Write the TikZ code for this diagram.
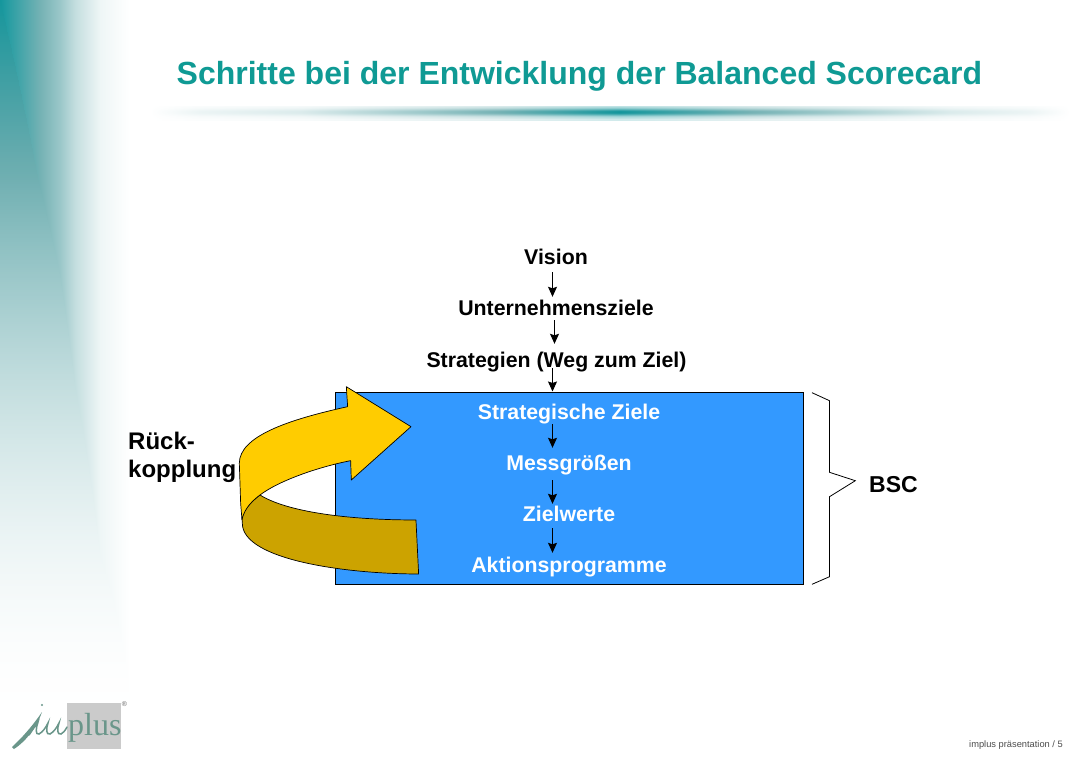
\documentclass[tikz,border=0pt]{standalone}
\usepackage{fontspec}
\setmainfont{Liberation Sans}
\newfontfamily\logofont{Liberation Serif}
\usetikzlibrary{arrows.meta}
\definecolor{tealmain}{HTML}{14969C}
\definecolor{sideteal}{HTML}{107A7E}
\definecolor{titleteal}{HTML}{0F9A94}
\definecolor{boxblue}{HTML}{3399FF}
\definecolor{arrowyellow}{HTML}{FFCC00}
\definecolor{arrowgold}{HTML}{CCA300}
\definecolor{logogreen}{HTML}{6A968A}
\definecolor{logogray}{HTML}{CBCBCB}
\pgfdeclarehorizontalshading{sidefade}{100bp}{
  color(0bp)=(tealmain!100!white);
  color(25bp)=(tealmain!100!white);
  color(26.9bp)=(tealmain!95!white);
  color(40.4bp)=(sideteal!58!white);
  color(48.1bp)=(sideteal!42!white);
  color(53.8bp)=(sideteal!25!white);
  color(63.5bp)=(sideteal!7!white);
  color(75bp)=(white);
  color(100bp)=(white)}
\newcommand{\barshade}[1]{%
  \pgfmathsetmacro{\sa}{#1*100}\pgfmathsetmacro{\sb}{#1*58}\pgfmathsetmacro{\sc}{#1*36}\pgfmathsetmacro{\sd}{#1*15}\pgfmathsetmacro{\se}{#1*8}%
  \edef\tmpdecl{\noexpand\pgfdeclarehorizontalshading{barrow}{100bp}{
    color(0bp)=(white); color(25bp)=(white);
    color(27.7bp)=(sideteal!\se!white);
    color(33.2bp)=(sideteal!\sd!white);
    color(38.6bp)=(sideteal!\sc!white);
    color(44bp)=(sideteal!\sb!white);
    color(50.5bp)=(tealmain!\sa!white);
    color(57.6bp)=(sideteal!\sb!white);
    color(63bp)=(sideteal!\sc!white);
    color(68.5bp)=(sideteal!\sd!white);
    color(72.8bp)=(sideteal!\se!white);
    color(75bp)=(white); color(100bp)=(white)}}%
  \tmpdecl}
\tikzset{
  label text/.style={font=\fontsize{21.3}{24}\selectfont\bfseries, inner sep=0pt, minimum height=22pt, text height=17pt, text depth=2.5pt},
  box text/.style={label text, text=white},
  flow arrow/.style={-{Stealth[length=10pt,width=9pt,inset=1.5pt]}, line width=1pt, black},
  band outline/.style={draw=black, line width=0.7pt, line join=round},
  brace line/.style={draw=black, line width=0.8pt}
}
\begin{document}
\begin{tikzpicture}[x=1pt,y=-1pt]
\useasboundingbox (0,0) rectangle (1092,760);
\fill[white] (0,0) rectangle (1092,760);
% sidebar
\shade[shading=sidefade] (0,0) rectangle (130,760);
\foreach \yy in {0,2,...,718}{
  \pgfmathsetmacro{\ff}{pow(1-(\yy+1)/720,1.8)}
  \pgfmathsetmacro{\xx}{\ff>0.95 ? (1-\ff)/0.05*5 :
     (\ff>0.58 ? 5+(0.95-\ff)/0.37*35 :
     (\ff>0.42 ? 40+(0.58-\ff)/0.16*20 :
     (\ff>0.25 ? 60+(0.42-\ff)/0.17*15 :
     (\ff>0.07 ? 75+(0.25-\ff)/0.18*25 : 100+(0.07-\ff)/0.07*30))))}
  \pgfmathsetmacro{\pc}{\ff*100}
  \pgfmathsetmacro{\tt}{\ff>0.6 ? (\ff-0.6)/0.4*100 : 0}
  \fill[tealmain!\tt!sideteal!\pc!white] (0,\yy) rectangle (\xx,\yy+2);
}
\fill[white] (0,720) rectangle (130,760);
% title rule
\foreach \rr/\ss in {106/0.28,107/0.38,108/0.5,109/0.68,110/0.85,111/0.98,112/1,113/0.95,114/0.8,115/0.62,116/0.45,117/0.35,118/0.28,119/0.2}{
  \barshade{\ss}
  \shade[shading=barrow] (150,\rr) rectangle (1070,\rr+1);
}
% title
\node[font=\fontsize{32}{38}\selectfont\bfseries, text=titleteal, inner sep=0pt] (title) at (579.5,76) {Schritte bei der Entwicklung der Balanced Scorecard};
% upper texts
\node[label text] (vision) at (556,257) {Vision};
\node[label text] (ziele) at (556,308) {Unternehmensziele};
\node[label text] (strat) at (556.5,360) {Strategien (Weg zum Ziel)};
% box
\node[draw=black, line width=1pt, fill=boxblue, minimum width=468pt, minimum height=192pt, inner sep=0pt] (bsc) at (569,488) {};
\node[box text] (sziele) at (569,412) {Strategische Ziele};
\node[box text] (mess) at (569,463) {Messgrößen};
\node[box text] (werte) at (569,514) {Zielwerte};
\node[box text] (aktion) at (569,565) {Aktionsprogramme};
% flow arrows
\draw[flow arrow] ([xshift=-3.5pt,yshift=-4pt]vision.south) -- ([xshift=-3.5pt]ziele.north);
\draw[flow arrow] ([xshift=-1.5pt,yshift=-1pt]ziele.south) -- ([xshift=-1.5pt,yshift=5pt]strat.north -| ziele.north);
\draw[flow arrow] ([xshift=-4pt,yshift=3pt]strat.south) -- ([xshift=-4pt]strat.south |- bsc.north);
\draw[flow arrow] ([xshift=-16.5pt,yshift=-1pt]sziele.south) -- ([xshift=-16.5pt,yshift=4pt]mess.north);
\draw[flow arrow] ([xshift=-16.5pt,yshift=-6pt]mess.south) -- ([xshift=-16.5pt,yshift=-1pt]werte.north);
\draw[flow arrow] ([xshift=-16.5pt,yshift=-3pt]werte.south) -- ([xshift=-16.5pt,yshift=1pt]aktion.north);
% feedback label
\node[font=\fontsize{24}{28}\selectfont\bfseries, anchor=north west, align=left, inner sep=0pt] (rueck) at (128,432) {Rück-\\kopplung};
% feedback band
\begin{scope}[shift={(120,370)},x=0.3333pt,y=-0.3333pt]
\path[band outline, fill=arrowgold] (420,375) .. controls (500,425) and (680,450) .. (888,450) -- (896,612) .. controls (680,612) and (367,570) .. (367,460) -- (366,445) .. controls (372,415) and (400,390) .. (420,375) -- cycle;
\path[band outline, fill=arrowyellow] (873,170) -- (679,50) -- (683,110) .. controls (500,150) and (358,200) .. (358,280) -- (362,400) -- (366,450) .. controls (372,415) and (400,390) .. (420,375) .. controls (480,330) and (600,290) .. (692,272) -- (694,330) -- cycle;
\end{scope}
% brace
\coordinate (b1) at (812,392.7);
\coordinate (b2) at (829.5,400.7);
\coordinate (b3) at (829.5,472.3);
\coordinate (b4) at (855.3,480.7);
\coordinate (b5) at (829.5,496.7);
\coordinate (b6) at (829.5,576.7);
\coordinate (b7) at (812,584.3);
\draw[brace line] (b1) -- (b2) -- (b3) -- (b4) -- (b5) -- (b6) -- (b7);
\node[font=\fontsize{23}{24}\selectfont\bfseries, anchor=west, inner sep=0pt] (bsclabel) at (869,485) {BSC};
% logo
\fill[logogray] (67,702.5) rectangle (120.5,748.5);
\node[font=\logofont\fontsize{32}{32}\selectfont, text=logogreen, anchor=base west, inner sep=0pt] (plus) at (68,735) {plus};
\node[font=\fontsize{7}{7}\selectfont, text=black!60, inner sep=0pt] (reg) at (124.5,704.5) {®};
\fill[logogreen] (12,747) .. controls (22,738) and (34,724) .. (42,712) .. controls (38,724) and (28,740) .. (14,749) -- cycle;
\fill[logogreen] (42,705) circle (1.2pt);
\draw[logogreen, line width=1.5pt, line cap=round] (29,735) .. controls (33,729) and (36,725) .. (38,722) .. controls (36,728) and (35,735) .. (39,734) .. controls (43,732) and (46,727) .. (48,723) .. controls (46,729) and (46,735) .. (50,734) .. controls (54,732) and (57,727) .. (59,723) .. controls (57,729) and (57,735) .. (61,734) .. controls (63,733) and (65,731) .. (67,727);
% footer
\node[font=\fontsize{9.3}{10}\selectfont, text=black!70, anchor=east, inner sep=0pt] (foot) at (1063,745) {implus präsentation / 5};
\end{tikzpicture}
\end{document}
